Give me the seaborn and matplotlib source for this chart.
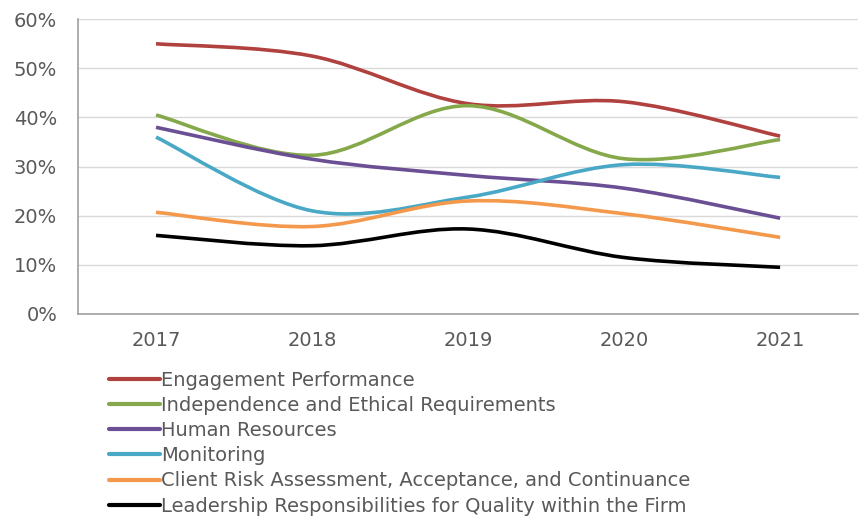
import matplotlib
matplotlib.use('Agg')
import matplotlib.pyplot as plt
import matplotlib.patches as mpatches
from matplotlib.path import Path
from matplotlib.ticker import FixedLocator, PercentFormatter
import pandas as pd
import seaborn as sns

years = ['2017', '2018', '2019', '2020', '2021']
engagement = [55.0, 52.5, 42.8, 43.2, 36.2]
independence = [40.5, 32.3, 42.4, 31.6, 35.5]
human_res = [38.0, 31.5, 28.2, 25.6, 19.5]
monitoring = [36.0, 21.0, 23.8, 30.4, 27.8]
client_risk = [20.7, 17.8, 23.0, 20.4, 15.6]
leadership = [16.0, 13.9, 17.3, 11.5, 9.5]

series = ['Engagement Performance',
          'Independence and Ethical Requirements',
          'Human Resources',
          'Monitoring',
          'Client Risk Assessment, Acceptance, and Continuance',
          'Leadership Responsibilities for Quality within the Firm']
colors = ['#b0413e', '#85a84b', '#6b4f94', '#48a8c6', '#f4984c', '#000000']

values = [engagement, independence, human_res, monitoring, client_risk, leadership]
df = pd.DataFrame([(y, s, v) for s, vals in zip(series, values) for y, v in zip(years, vals)],
                  columns=['year', 'category', 'share'])

sns.set_style('white')
plt.rcParams['font.family'] = ['DejaVu Sans']

fig = plt.figure(figsize=(8.62, 5.19), dpi=100)
ax = fig.add_axes([0.0905, 0.395, 0.905, 0.568])

sns.lineplot(data=df, x='year', y='share', hue='category', hue_order=series,
             palette=colors, linewidth=2.6, ax=ax, legend=True)


def smooth_path(xs, ys):
    # Excel style smoothed line: Catmull-Rom spline as cubic bezier segments
    pts = list(zip(xs, ys))
    verts = [pts[0]]
    codes = [Path.MOVETO]
    n = len(pts)
    for i in range(n - 1):
        p0 = pts[i - 1] if i > 0 else pts[i]
        p1 = pts[i]
        p2 = pts[i + 1]
        p3 = pts[i + 2] if i + 2 < n else pts[i + 1]
        c1 = (p1[0] + (p2[0] - p0[0]) / 6, p1[1] + (p2[1] - p0[1]) / 6)
        c2 = (p2[0] - (p3[0] - p1[0]) / 6, p2[1] - (p3[1] - p1[1]) / 6)
        verts += [c1, c2, p2]
        codes += [Path.CURVE4] * 3
    return Path(verts, codes)


for line in ax.get_lines()[:len(series)]:
    xs, ys = line.get_data()
    patch = mpatches.PathPatch(smooth_path(list(xs), list(ys)), facecolor='none',
                               edgecolor=line.get_color(), lw=2.6, capstyle='butt',
                               zorder=line.get_zorder())
    ax.add_patch(patch)
    line.set_visible(False)

ax.set_xlim(-0.5, 4.5)
ax.set_ylim(0, 60)
ax.set_yticks(range(0, 61, 10))
ax.yaxis.set_major_formatter(PercentFormatter(decimals=0))
ax.xaxis.set_minor_locator(FixedLocator([0.5, 1.5, 2.5, 3.5]))
ax.tick_params(axis='x', which='major', length=0, pad=12, labelsize=14, labelcolor='#595959')
ax.tick_params(axis='x', which='minor', length=4, width=1, color='#a0a0a0', direction='out')
ax.tick_params(axis='y', length=5, width=1, color='#a0a0a0', direction='out', pad=10,
               labelsize=14, labelcolor='#595959')
ax.set_xlabel('')
ax.set_ylabel('')
ax.grid(axis='y', color='#d9d9d9', lw=1)
ax.set_axisbelow(True)
for side in ['top', 'right']:
    ax.spines[side].set_visible(False)
for side in ['left', 'bottom']:
    ax.spines[side].set_color('#a0a0a0')
    ax.spines[side].set_linewidth(1.2)

handles, labels = ax.get_legend_handles_labels()
ax.get_legend().remove()
for h in handles:
    h.set_linewidth(3)
    h.set_visible(True)
fig.legend(handles, labels, loc='upper left', bbox_to_anchor=(0.127, 0.286),
           frameon=False, fontsize=14, labelcolor='#595959', handlelength=2.6,
           handletextpad=0.05, labelspacing=0.32, borderpad=0, borderaxespad=0)

fig.savefig('out.png', dpi=100)
